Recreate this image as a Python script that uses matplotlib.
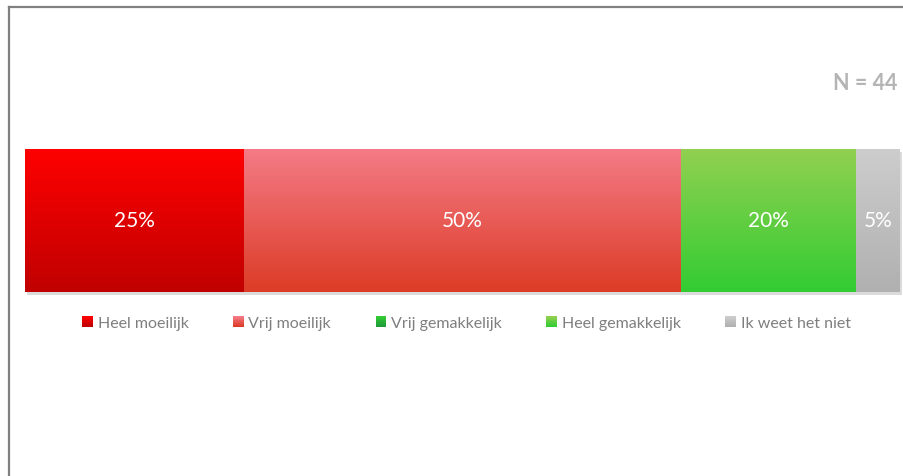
import numpy as np
import matplotlib
matplotlib.use("Agg")
import matplotlib.pyplot as plt
from matplotlib.patches import Rectangle
from matplotlib.lines import Line2D
from matplotlib.legend_handler import HandlerBase
import matplotlib.patheffects as pe

plt.rcParams["font.family"] = ["Lato", "DejaVu Sans"]

categories = ["Heel moeilijk", "Vrij moeilijk", "Vrij gemakkelijk",
              "Heel gemakkelijk", "Ik weet het niet"]
values = [25, 50, 0, 20, 5]
sample_label = "N = 44"

# gradient colours per category: (top, bottom)
gradients = [
    ("#FF0000", "#C00000"),
    ("#F47B87", "#DC3C26"),
    ("#33CC33", "#1E9B3C"),
    ("#92D050", "#33CC33"),
    ("#CDCDCD", "#B0B0B0"),
]

W, H = 904, 477
fig = plt.figure(figsize=(W / 100, H / 100), dpi=100)
fig.patch.set_facecolor("white")

ax = fig.add_axes([25 / W, (H - 293) / H, 875 / W, 143 / H])
ax.axis("off")


def gradient_image(top, bottom, n=256):
    c0 = np.array(matplotlib.colors.to_rgb(top))
    c1 = np.array(matplotlib.colors.to_rgb(bottom))
    t = np.linspace(0, 1, n)[:, None]
    return (c0 * (1 - t) + c1 * t)[:, None, :]


lefts = np.concatenate([[0], np.cumsum(values)[:-1]])
for v, l, (top, bot) in zip(values, lefts, gradients):
    if v <= 0:
        continue
    r = ax.barh(0.5, v, left=l, height=1, color=bot, linewidth=0,
                clip_on=False, zorder=1)[0]
    r.set_path_effects([pe.SimplePatchShadow(offset=(1.5, -2.5),
                                             shadow_rgbFace="#888888",
                                             alpha=0.3),
                        pe.Normal()])
    x0, y0, w, h = r.get_x(), r.get_y(), r.get_width(), r.get_height()
    im = ax.imshow(gradient_image(top, bot), extent=(x0, x0 + w, y0, y0 + h),
                   aspect="auto", origin="upper", zorder=2,
                   interpolation="bilinear")
    im.set_clip_path(r)
    ax.text(l + v / 2, 0.5, f"{v}%", ha="center", va="center",
            color="white", fontsize=15, zorder=3)
ax.set_xlim(0, sum(values))
ax.set_ylim(0, 1)


class GradientHandler(HandlerBase):
    def __init__(self, top, bottom, steps=12):
        super().__init__()
        self.top, self.bottom, self.steps = top, bottom, steps

    def create_artists(self, legend, orig_handle, xdescent, ydescent,
                       width, height, fontsize, trans):
        cols = gradient_image(self.top, self.bottom, self.steps)[:, 0, :]
        arts = []
        sh = height / self.steps
        for i, c in enumerate(cols):
            y = -ydescent + height - (i + 1) * sh
            arts.append(Rectangle((-xdescent, y), width, sh * 1.05,
                                  facecolor=c, edgecolor="none",
                                  transform=trans))
        return arts


handles = [Rectangle((0, 0), 1, 1) for _ in categories]
handler_map = {h: GradientHandler(*g) for h, g in zip(handles, gradients)}
leg = fig.legend(handles, categories, handler_map=handler_map,
                 loc="center", bbox_to_anchor=(466.5 / W, 1 - 324 / H),
                 ncol=5, frameon=False, fontsize=11.5,
                 handlelength=0.65, handleheight=0.65, handletextpad=0.3,
                 columnspacing=2.8, labelcolor="#7F7F7F")

fig.text(897 / W, 1 - 84 / H, sample_label, ha="right", va="center",
         fontsize=15.5, fontweight="bold", color="#B4B4B4")

# frame lines on left and top
fig.add_artist(Line2D([8.5 / W, 8.5 / W], [0, 1 - 7.5 / H],
                      color="#808080", linewidth=1.6))
fig.add_artist(Line2D([8.5 / W, 1], [1 - 7.5 / H, 1 - 7.5 / H],
                      color="#808080", linewidth=1.6))

fig.savefig("out.png", dpi=100, facecolor="white")
